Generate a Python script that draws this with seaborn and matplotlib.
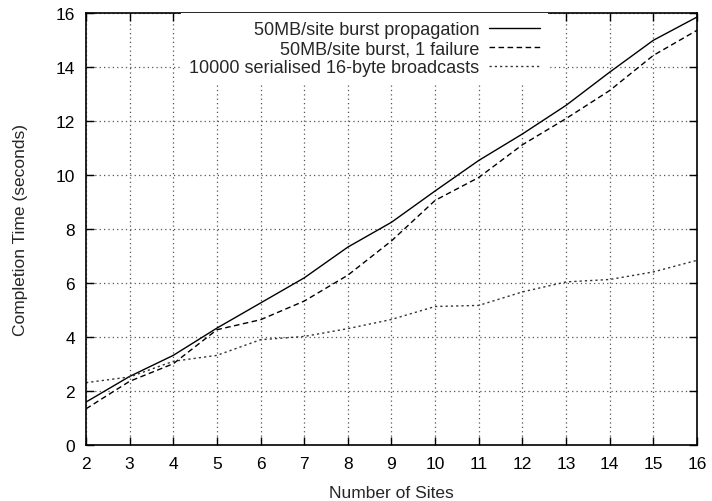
import pandas as pd
import matplotlib.pyplot as plt
import seaborn as sns

# Values
sites = list(range(2, 17))
burst = [1.59, 2.54, 3.32, 4.33, 5.26, 6.19, 7.33, 8.25, 9.41, 10.54, 11.52, 12.58, 13.81, 14.99, 15.85]
burst_fail = [1.34, 2.36, 3.01, 4.27, 4.64, 5.33, 6.29, 7.56, 9.06, 9.91, 11.12, 12.09, 13.13, 14.43, 15.36]
serial = [2.31, 2.52, 3.10, 3.32, 3.90, 4.02, 4.31, 4.65, 5.13, 5.17, 5.67, 6.04, 6.13, 6.41, 6.84]
labels = ["50MB/site burst propagation", "50MB/site burst, 1 failure", "10000 serialised 16-byte broadcasts"]
x_ticks = list(range(2, 17))
y_ticks = list(range(0, 17, 2))

df = pd.DataFrame({
    "sites": sites * 3,
    "time": burst + burst_fail + serial,
    "series": [labels[0]] * 15 + [labels[1]] * 15 + [labels[2]] * 15,
})

sns.set_style("ticks")
plt.rcParams["font.family"] = ["Liberation Sans", "DejaVu Sans"]
plt.rcParams["font.size"] = 12.5

fig = plt.figure(figsize=(7.12, 5.02), dpi=100)
ax = fig.add_axes([86 / 712, 56 / 502, 611 / 712, 432 / 502])

sns.lineplot(data=df, x="sites", y="time", hue="series", style="series",
             palette=["black", "black", "#333333"],
             dashes={labels[0]: "", labels[1]: (4, 2.5), labels[2]: (1.6, 2.2)},
             linewidth=1.0, ax=ax)

ax.set_xlim(2, 16)
ax.set_ylim(0, 16)
ax.set_xticks(x_ticks)
ax.set_yticks(y_ticks)
ax.set_xlabel("Number of Sites", fontsize=12.5, labelpad=10)
ax.set_ylabel("Completion Time (seconds)", fontsize=12.5, labelpad=20)
ax.tick_params(direction="in", length=6, width=1, top=True, right=True,
               labelsize=12.5, pad=8, colors="black")
ax.grid(True, linestyle=(0, (1, 2.5)), color="#555555", linewidth=0.9)
ax.set_axisbelow(True)
for s in ax.spines.values():
    s.set_linewidth(1.2)
    s.set_color("black")

leg = ax.legend(loc="upper right", bbox_to_anchor=(0.756, 1.0), markerfirst=False,
                frameon=True, fancybox=False, framealpha=1, edgecolor="white",
                borderaxespad=0, borderpad=0.45, labelspacing=0.12, handlelength=2.8,
                handletextpad=0.55, fontsize=13)
leg.get_frame().set_linewidth(0)
# right-justify the legend entries like gnuplot does
for col in leg._legend_handle_box.get_children():
    col.align = "right"

plt.savefig("out.png", dpi=100)
